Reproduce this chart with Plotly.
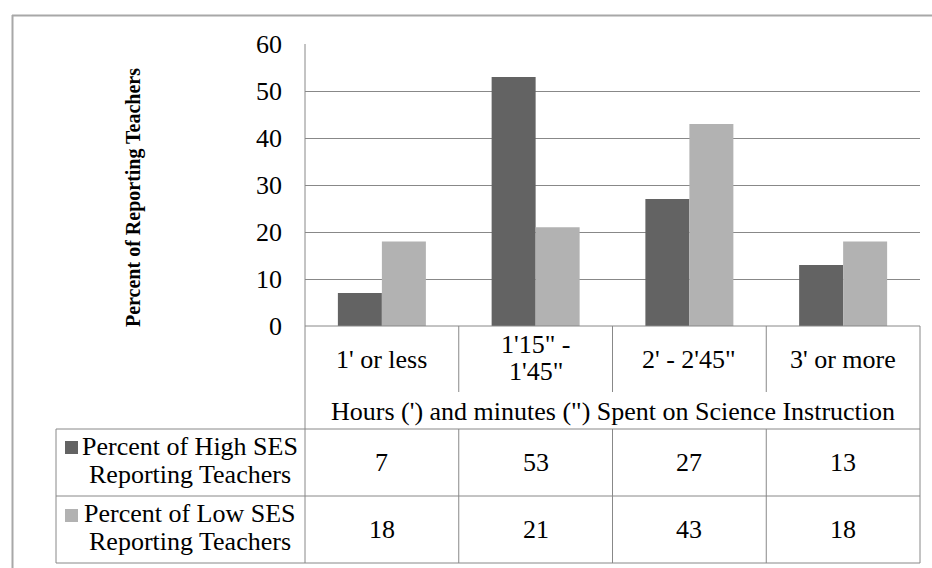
import plotly.graph_objects as go

# Chart data
categories = ["1' or less", "1'15\" -\n1'45\"", "2' - 2'45\"", "3' or more"]
series_names = ["Percent of High SES\nReporting Teachers",
                "Percent of Low SES\nReporting Teachers"]
high_ses = [7, 53, 27, 13]
low_ses = [18, 21, 43, 18]
y_ticks = [0, 10, 20, 30, 40, 50, 60]
x_title = "Hours (') and minutes (\") Spent on Science Instruction"
y_title = "Percent of Reporting Teachers"

W, H = 932, 568
FONT = "Liberation Serif, Times New Roman, serif"
FS = 26
DARK = "#636363"
LIGHT = "#b2b2b2"
GRID = "#888888"


def px(x):
    return x / W


def py(y):
    return 1 - y / H


# layout positions (pixels)
PL, PR, PT, PB = 305, 920, 44, 326   # plot area
ROW_CAT_B = 392                      # bottom of category-label row dividers
ROW_T = 429                          # top of data rows
ROW_M = 496
ROW_B = 563
TBL_L = 56

xs = list(range(len(categories)))
fig = go.Figure()
fig.add_trace(go.Bar(x=xs, y=high_ses, marker=dict(color=DARK, line=dict(width=0)),
                     name=series_names[0].replace("\n", " ")))
fig.add_trace(go.Bar(x=xs, y=low_ses, marker=dict(color=LIGHT, line=dict(width=0)),
                     name=series_names[1].replace("\n", " ")))

shapes = []


def hline(x0, x1, y, color=GRID, w=1):
    shapes.append(dict(type="line", xref="paper", yref="paper",
                       x0=px(x0), x1=px(x1), y0=py(y), y1=py(y),
                       line=dict(color=color, width=w)))


def vline(x, y0, y1, color=GRID, w=1):
    shapes.append(dict(type="line", xref="paper", yref="paper",
                       x0=px(x), x1=px(x), y0=py(y0), y1=py(y1),
                       line=dict(color=color, width=w)))


# outer chart border
vline(12.5, 15, H, color="#a8a8a8", w=2)
hline(12, W, 15.5, color="#a8a8a8", w=2)

# value axis line extending through the table
vline(PL, PT, ROW_B)
# category axis line
hline(PL, PR, PB)
# category row dividers
col_w = (PR - PL) / len(categories)
for i in range(1, len(categories)):
    vline(PL + i * col_w, PB, ROW_CAT_B)
    vline(PL + i * col_w, ROW_T, ROW_B)
# table right edge
vline(PR, PB, ROW_B)
# data table rows
hline(TBL_L, PR, ROW_T)
hline(TBL_L, PR, ROW_M)
hline(TBL_L, PR, ROW_B)
vline(TBL_L, ROW_T, ROW_B)

# legend keys in the table
for (y0, y1), col in zip([(441, 454), (509, 522)], [DARK, LIGHT]):
    shapes.append(dict(type="rect", xref="paper", yref="paper",
                       x0=px(65), x1=px(78), y0=py(y1), y1=py(y0),
                       fillcolor=col, line=dict(width=0)))

annotations = []
font = dict(family=FONT, size=FS, color="black")


def text_block(x, xref, yc, text, line_h):
    """Place a (possibly multi-line) label centred on yc with tight line spacing."""
    lines = text.split("\n")
    n = len(lines)
    for k, ln in enumerate(lines):
        y = yc + (k - (n - 1) / 2) * line_h
        annotations.append(dict(x=x, xref=xref, y=py(y), yref="paper", text=ln,
                                showarrow=False, xanchor="center", yanchor="middle",
                                font=font))


# category labels
for i, c in enumerate(categories):
    multi = "\n" in c
    text_block(i, "x", 358 if multi else 359, c, 26.5)
# axis titles
annotations.append(dict(x=px((PL + PR) / 2), y=py(411), xref="paper", yref="paper",
                        text=x_title, showarrow=False, xanchor="center", yanchor="middle",
                        font=font))
annotations.append(dict(x=px(133), y=py(198), xref="paper", yref="paper",
                        text="<b>" + y_title + "</b>", textangle=-90, showarrow=False,
                        xanchor="center", yanchor="middle",
                        font=dict(family=FONT, size=20, color="black")))
# table row headers and values
row_centers = [(ROW_T + ROW_M) / 2, (ROW_M + ROW_B) / 2]
for name, vals, yc in zip(series_names, [high_ses, low_ses], row_centers):
    text_block(px(190), "paper", yc - 2, name, 28.5)
    for i, v in enumerate(vals):
        text_block(i, "x", yc, str(v), 28.5)

fig.update_layout(
    width=W, height=H,
    margin=dict(l=0, r=0, t=0, b=0, pad=0, autoexpand=False),
    paper_bgcolor="white", plot_bgcolor="white",
    showlegend=False,
    barmode="group", bargap=1 - 88 / col_w, bargroupgap=0,
    xaxis=dict(domain=[px(PL), px(PR)], range=[-0.5, len(categories) - 0.5],
               showticklabels=False, showgrid=False, zeroline=False,
               showline=False, ticks="", fixedrange=True, automargin=False),
    yaxis=dict(domain=[py(PB), py(PT)], range=[0, 60], tickvals=y_ticks,
               showgrid=True, gridcolor=GRID, gridwidth=1, zeroline=False,
               showline=False, ticks="", ticklabelstandoff=22, automargin=False,
               fixedrange=True,
               tickfont=dict(family=FONT, size=FS, color="black")),
    shapes=shapes,
    annotations=annotations,
)

fig.write_html("out.html", config={"displayModeBar": False})
